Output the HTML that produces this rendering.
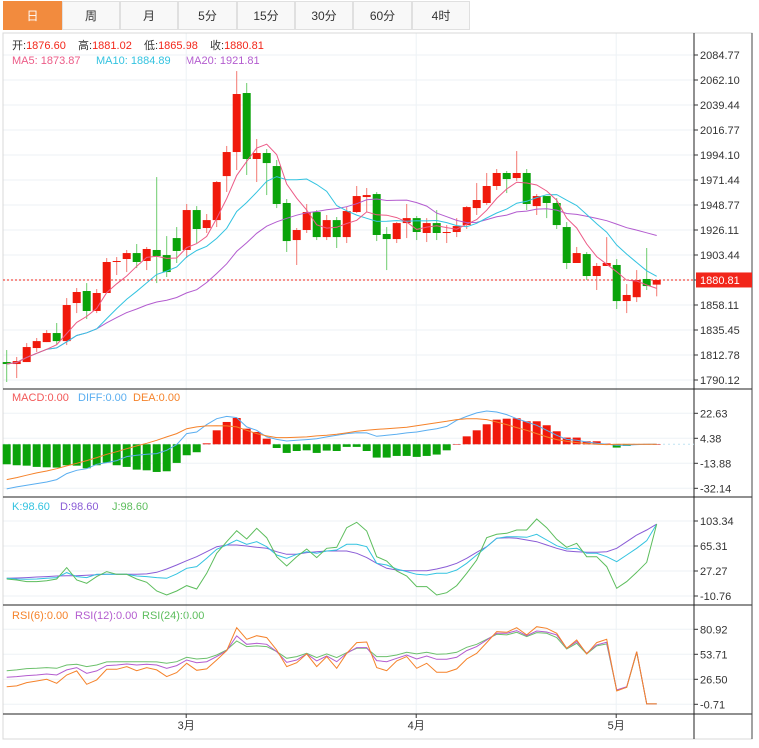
<!DOCTYPE html>
<html><head><meta charset="utf-8">
<style>
body{margin:0;background:#fff;width:759px;height:748px;overflow:hidden;font-family:"Liberation Sans","Noto Sans CJK SC",sans-serif;}
#tabs{position:absolute;left:0;top:0;height:31px;width:759px;}
.tab{position:absolute;top:1px;height:29px;line-height:29px;text-align:center;font-size:12px;color:#333;background:#f8f8f8;border:1px solid #e0e0e0;box-sizing:border-box;cursor:pointer;}
.tab.active{background:#f28b3e;color:#fff;border-color:#f28b3e;}
svg{position:absolute;left:0;top:0;}
</style></head>
<body>
<div id="tabs">
<div class="tab active" style="left:3px;width:59px">日</div>
<div class="tab" style="left:62px;width:58px">周</div>
<div class="tab" style="left:120px;width:58px">月</div>
<div class="tab" style="left:178px;width:59px">5分</div>
<div class="tab" style="left:237px;width:58px">15分</div>
<div class="tab" style="left:295px;width:58px">30分</div>
<div class="tab" style="left:353px;width:59px">60分</div>
<div class="tab" style="left:412px;width:58px">4时</div>
</div>
<svg id="chart" width="759" height="748" xmlns="http://www.w3.org/2000/svg" style="top:0">
<g font-family="Liberation Sans, Noto Sans CJK SC, sans-serif" font-size="11">
<g>
<text x="12" y="49" fill="#333">开:<tspan fill="#f2261a">1876.60</tspan></text>
<text x="78" y="49" fill="#333">高:<tspan fill="#f2261a">1881.02</tspan></text>
<text x="144" y="49" fill="#333">低:<tspan fill="#f2261a">1865.98</tspan></text>
<text x="210" y="49" fill="#333">收:<tspan fill="#f2261a">1880.81</tspan></text>
</g>
<g>
<text x="12" y="64" fill="#ec5b87">MA5: 1873.87</text>
<text x="96" y="64" fill="#33c3e0">MA10: 1884.89</text>
<text x="185" y="64" fill="#b35ccf">MA20: 1921.81</text>
</g>
<g>
<text x="12" y="401" fill="#f25858">MACD:0.00</text>
<text x="78" y="401" fill="#5aaef0">DIFF:0.00</text>
<text x="133" y="401" fill="#f5822a">DEA:0.00</text>
</g>
<g>
<text x="12" y="510" fill="#33c3e0">K:98.60</text>
<text x="60" y="510" fill="#8a5cd6">D:98.60</text>
<text x="112" y="510" fill="#5cbd5c">J:98.60</text>
</g>
<g>
<text x="12" y="619" fill="#f5822a">RSI(6):0.00</text>
<text x="75" y="619" fill="#b35ccf">RSI(12):0.00</text>
<text x="142" y="619" fill="#5cbd5c">RSI(24):0.00</text>
</g>
</g>
</svg>
<script>
const opens=[1806.4,1804.6,1806.4,1819.1,1824.5,1832.7,1825.4,1859.9,1870.8,1852.7,1869.0,1897.1,1899.8,1905.2,1898.0,1908.0,1903.4,1918.8,1908.0,1944.2,1927.9,1935.1,1975.0,1996.8,2050.3,1990.5,1995.9,1984.1,1950.6,1917.0,1926.1,1942.4,1919.7,1935.1,1919.7,1942.4,1956.0,1958.7,1922.5,1917.9,1932.4,1936.9,1923.4,1932.4,1923.4,1924.3,1930.6,1946.0,1950.6,1966.0,1977.8,1973.2,1977.8,1947.8,1956.9,1950.6,1928.8,1896.2,1904.3,1884.4,1893.5,1894.4,1861.7,1865.2,1881.7,1876.6];
const highs=[1817.3,1811.0,1823.6,1828.2,1835.4,1841.8,1864.4,1873.5,1878.0,1872.6,1900.7,1901.6,1908.0,1913.4,1910.7,1974.1,1920.6,1928.8,1949.7,1947.8,1940.6,1970.5,2002.3,2070.2,2059.4,2008.6,1999.5,1989.6,1954.2,1927.9,1949.7,1944.2,1939.7,1937.9,1946.9,1966.0,1964.2,1960.5,1928.8,1933.3,1949.7,1938.8,1936.9,1944.2,1930.6,1936.9,1947.8,1968.7,1977.8,1981.4,1979.6,1997.7,1981.4,1958.7,1956.9,1955.1,1933.3,1910.7,1906.1,1896.2,1919.7,1899.8,1877.1,1889.8,1909.8,1881.02];
const lows=[1788.3,1791.9,1806.4,1815.5,1824.5,1821.8,1821.8,1850.8,1845.4,1850.8,1869.0,1885.3,1888.0,1891.6,1889.8,1878.0,1883.5,1896.2,1900.7,1914.3,1923.4,1928.8,1960.6,1980.5,1976.0,1969.6,1957.8,1946.0,1906.2,1894.4,1923.4,1917.0,1917.0,1909.8,1914.3,1941.5,1942.4,1916.1,1889.8,1914.3,1918.8,1917.0,1915.2,1917.0,1914.3,1919.7,1927.0,1939.7,1948.8,1962.4,1959.6,1970.5,1944.2,1939.7,1936.9,1927.0,1890.7,1896.2,1880.8,1871.7,1893.5,1854.5,1850.8,1860.8,1871.7,1865.98];
const closes=[1804.6,1807.3,1820.0,1825.4,1832.7,1825.4,1858.1,1869.9,1852.7,1869.0,1897.1,1898.0,1905.2,1897.1,1908.9,1902.5,1888.0,1907.1,1944.2,1927.0,1935.1,1969.6,1996.8,2049.4,1990.5,1995.9,1986.8,1949.7,1916.1,1926.1,1942.4,1919.7,1935.1,1919.7,1943.3,1956.9,1957.8,1921.6,1917.9,1932.4,1936.9,1924.3,1932.4,1923.4,1924.3,1929.7,1946.9,1953.3,1966.0,1977.8,1972.3,1977.8,1949.7,1956.9,1950.6,1930.6,1896.2,1905.2,1884.4,1893.5,1896.2,1861.7,1867.2,1880.8,1875.3,1880.81];
const macdHist=[-14.6,-15.3,-15.6,-16.5,-16.8,-17.0,-15.3,-15.6,-17.5,-15.3,-13.4,-15.3,-16.5,-18.5,-19.0,-20.2,-19.7,-13.6,-8.0,-5.8,0.7,10.2,16.3,19.2,11.4,9.0,4.1,-2.7,-6.3,-4.9,-4.4,-6.3,-4.6,-4.9,-1.9,-1.9,-4.9,-9.7,-9.7,-8.5,-8.5,-9.2,-8.5,-7.5,-4.4,0,5.8,10.2,14.6,18.0,18.7,19.0,16.8,16.8,13.9,9.5,4.9,4.9,2.2,2.2,0.5,-2.4,-1.2,0.2,0.1,0];
const diffVals=[-32.6,-31.1,-29.9,-28.7,-27.5,-25.8,-21.4,-19.0,-17.8,-14.6,-13.4,-11.9,-9.0,-8.0,-7.3,-6.8,-4.4,-0.2,7.8,9.0,14.4,18.7,20.4,19.5,12.7,10.2,5.4,3.6,2.4,2.9,3.4,4.1,5.4,6.6,7.8,8.5,8.3,5.8,6.6,7.3,8.3,9.0,10.2,11.4,13.1,17.5,20.4,22.9,24.3,23.6,21.7,18.7,16.3,13.9,10.2,6.6,3.6,2.9,1.7,0.7,0,-0.7,-0.7,-0.2,0,0];
const deaVals=[-25.8,-24.3,-22.6,-20.9,-19.5,-17.8,-15.8,-13.9,-11.9,-9.7,-7.3,-5.4,-3.2,-1.2,0.7,2.9,5.4,7.8,11.4,12.7,13.4,13.6,13.4,12.7,10.2,7.8,6.1,4.9,4.9,5.1,5.4,6.1,6.6,7.3,8.3,9.5,10.2,10.9,11.4,11.9,12.4,13.6,14.6,15.8,16.8,18.0,18.7,18.7,18.0,16.3,14.4,12.2,10.2,7.8,5.4,3.4,2.2,1.2,0.5,0,-0.2,0,0,0,0,0];
const kVals=[16.1,15.1,14.6,15.1,16.1,17.2,24.8,18.7,17.2,22.2,22.2,22.2,22.2,19.7,18.7,17.2,16.1,22.8,31.4,33.9,46.6,60.3,66.9,74.5,67.9,71.9,64.3,51.6,46.6,52.7,56.7,54.2,57.7,59.2,67.9,67.9,64.3,39.0,36.4,30.3,26.3,22.2,21.2,23.8,23.8,28.8,39.0,51.6,64.3,77.0,79.5,79.5,78.5,83.1,74.5,65.8,60.8,61.8,54.2,54.2,49.1,41.5,51.6,61.8,73.4,98.6];
const dVals=[16.1,16.7,17.2,18.2,18.7,19.7,20.2,20.2,20.7,21.7,22.2,22.2,22.2,22.2,22.8,25.3,30.3,36.4,43.0,49.1,56.7,64.3,66.9,66.9,65.3,63.3,61.8,56.7,52.7,52.7,55.2,56.7,57.7,57.7,57.7,54.2,47.6,39.0,31.4,28.8,27.8,27.8,27.8,30.3,33.9,39.0,46.6,55.7,64.3,77.0,78.0,77.0,74.5,71.9,66.9,61.8,57.7,56.7,55.7,55.7,56.7,61.8,71.9,82.1,89.7,98.6];
const jVals=[15.1,13.6,11.1,11.1,12.6,15.1,32.4,13.6,8.5,18.7,26.3,22.2,22.2,15.1,10.1,-3.1,-9.2,-3.1,5.0,-0.1,23.8,54.2,71.9,88.6,76.0,92.2,78.0,49.1,34.9,49.1,60.8,47.6,61.8,63.3,93.2,101.3,88.1,49.1,42.5,27.3,19.7,3.5,3.5,-9.2,-5.7,5.0,23.8,44.0,78.0,83.1,84.6,89.7,89.7,106.4,93.2,75.5,63.3,69.4,49.1,49.1,33.9,0.9,11.1,25.3,40.5,98.6];
const rsi6=[18.5,19.3,22.9,24.7,26.5,22.1,31.2,35.6,21.1,25.8,37.4,37.4,40.3,35.9,39.2,36.7,29.4,33.8,43.9,36.3,37.8,47.5,57.7,82.7,70.0,74.0,71.9,58.4,40.3,44.6,54.1,40.3,51.2,38.5,54.8,66.4,67.1,39.2,35.9,46.5,51.2,38.5,43.9,34.2,34.2,37.8,48.6,54.8,66.4,78.4,77.7,82.7,74.8,83.8,82.0,76.6,60.2,69.3,54.1,66.4,70.0,13.8,17.8,56.6,-0.3,-0.3];
const rsi12=[28.7,29.4,30.5,31.2,32.3,31.2,36.7,39.2,33.0,35.6,41.4,42.1,43.2,42.1,42.8,42.1,38.5,41.4,47.5,44.6,45.7,51.2,57.7,73.7,64.6,65.7,64.6,56.6,45.0,47.5,54.1,46.5,51.9,45.7,54.8,61.0,61.0,46.8,45.7,49.4,53.0,48.6,51.9,48.3,48.3,50.4,57.7,62.1,69.3,76.6,76.6,79.5,74.0,79.1,78.0,74.8,60.2,67.5,54.8,63.9,66.8,14.9,18.5,56.6,-0.3,-0.3];
const rsi24=[35.9,36.7,38.1,38.5,39.2,38.5,42.1,42.8,40.3,42.1,45.4,45.7,45.7,45.7,45.7,45.4,43.9,45.7,50.4,48.6,49.4,53.0,58.4,68.2,62.1,62.8,62.1,56.6,49.4,51.2,54.8,50.1,54.1,50.1,55.5,60.2,60.2,51.2,51.2,53.0,55.9,54.1,55.9,53.7,54.1,55.9,61.3,64.6,70.0,75.5,74.8,77.7,73.0,77.3,76.6,71.9,59.5,65.7,54.1,62.8,65.0,14.9,17.8,55.9,-0.3,-0.3];
const priceTicks=[2084.77,2062.10,2039.44,2016.77,1994.10,1971.44,1948.77,1926.11,1903.44,1880.78,1858.11,1835.45,1812.78,1790.12];
const priceTickLabels=["2084.77","2062.10","2039.44","2016.77","1994.10","1971.44","1948.77","1926.11","1903.44","","1858.11","1835.45","1812.78","1790.12"];
const macdTicks=[22.63,4.38,-13.88,-32.14];
const kdjTicks=[103.34,65.31,27.27,-10.76];
const rsiTicks=[80.92,53.71,26.50,-0.71];
const monthLabels=["3月","4月","5月"];
const monthIndex=[18,41,61];
const lastPrice=1880.81;

const NS="http://www.w3.org/2000/svg";
const svg=document.getElementById('chart');
function el(tag,attrs,parent){const e=document.createElementNS(NS,tag);for(const k in attrs)e.setAttribute(k,attrs[k]);(parent||svg).appendChild(e);return e;}
const xOf=i=>6.7+10*i;
const yP=p=>55+(2084.77-p)*25/22.665;
const yM=v=>413.3+(22.63-v)*25/18.255;
const yK=v=>521+(103.34-v)*25/38.03;
const yR=v=>629.3+(80.92-v)*25/27.21;
const L=3,R=694,OUT=752;

const grid=el('g',{});


priceTicks.forEach(t=>el('line',{x1:L,x2:R,y1:yP(t),y2:yP(t),stroke:'#edf2f6'},grid));
macdTicks.forEach(t=>el('line',{x1:L,x2:R,y1:yM(t),y2:yM(t),stroke:'#edf2f6'},grid));
kdjTicks.forEach(t=>el('line',{x1:L,x2:R,y1:yK(t),y2:yK(t),stroke:'#edf2f6'},grid));
rsiTicks.forEach(t=>el('line',{x1:L,x2:R,y1:yR(t),y2:yR(t),stroke:'#edf2f6'},grid));
monthIndex.forEach(i=>el('line',{x1:xOf(i)-0.5,x2:xOf(i)-0.5,y1:33,y2:714,stroke:'#edf2f6'},grid));

el('rect',{x:L,y:33,width:OUT-L,height:706,fill:'none',stroke:'#d8d8d8'});
[389,497,605,714].forEach(y=>el('line',{x1:L,x2:OUT,y1:y,y2:y,stroke:'#222'}));
el('line',{x1:R,x2:R,y1:33,y2:739,stroke:'#222'});
el('line',{x1:OUT,x2:OUT,y1:33,y2:739,stroke:'#444'});

const ax=el('g',{'font-family':'Liberation Sans, sans-serif','font-size':'11',fill:'#333'});


function tick(y,label){el('line',{x1:R,x2:R+4,y1:y,y2:y,stroke:'#333'},ax);if(label){const t=el('text',{x:R+6,y:y+4},ax);t.textContent=label;}}
priceTicks.forEach((t,i)=>tick(yP(t),priceTickLabels[i]));
macdTicks.forEach(t=>tick(yM(t),t.toFixed(2)));
kdjTicks.forEach(t=>tick(yK(t),t.toFixed(2)));
rsiTicks.forEach(t=>tick(yR(t),t.toFixed(2)));
monthIndex.forEach((idx,k)=>{const x=xOf(idx)-0.5;el('line',{x1:x,x2:x,y1:714,y2:718,stroke:'#333'},ax);const t=el('text',{x:x,y:729,'text-anchor':'middle','font-family':'Liberation Sans, Noto Sans CJK SC, sans-serif'},ax);t.textContent=monthLabels[k];});

const lp=el('line',{x1:L,x2:R,y1:yP(lastPrice),y2:yP(lastPrice),stroke:'#f2261a','stroke-dasharray':'2,2'});


const lpb=el('rect',{x:R+2,y:yP(lastPrice)-7.5,width:56,height:15,fill:'#f2261a'});


const lpt=el('text',{x:R+6,y:yP(lastPrice)+4,fill:'#fff','font-size':'11','font-family':'Liberation Sans, sans-serif'});
lpt.textContent=lastPrice.toFixed(2);

const cg=el('g',{});


for(let i=0;i<opens.length;i++){
  const up=closes[i]>=opens[i];
  const body=up?'#f0190b':'#0aa30a', wick=up?'#f37a72':'#6dcc6d';
  const x=xOf(i);
  const w=el('line',{x1:x,x2:x,y1:yP(highs[i]),y2:yP(lows[i]),stroke:wick},cg);
  
  
  const top=yP(Math.max(opens[i],closes[i])),bot=yP(Math.min(opens[i],closes[i]));
  const b=el('rect',{x:x-4,y:top,width:8,height:Math.max(1,bot-top),fill:body},cg);
  
  
}
function ma(n){return closes.map((c,i)=>{const s=closes.slice(Math.max(0,i-n+1),i+1);return s.reduce((a,b)=>a+b,0)/s.length;});}
function line(vals,yf,color,name,w){const p=vals.map((v,i)=>xOf(i)+','+yf(v).toFixed(1)).join(' ');const e=el('polyline',{points:p,fill:'none',stroke:color,'stroke-width':w||1});

}
line(ma(20),yP,'#b35ccf','ma20-line');
line(ma(10),yP,'#33c3e0','ma10-line');
line(ma(5),yP,'#ec5b87','ma5-line');

const zl=el('line',{x1:L,x2:R,y1:yM(0),y2:yM(0),stroke:'#bfe3f2','stroke-dasharray':'2,3'});


macdHist.forEach((v,i)=>{const y0=yM(0),y1=yM(v);const r=el('rect',{x:xOf(i)-4,y:Math.min(y0,y1),width:8,height:Math.max(0.5,Math.abs(y1-y0)),fill:v>=0?'#f0190b':'#0aa30a'});

});
line(diffVals,yM,'#5aaef0','diff-line');
line(deaVals,yM,'#f5822a','dea-line');
line(dVals,yK,'#8a5cd6','kdj-d-line');
line(kVals,yK,'#33c3e0','kdj-k-line');
line(jVals,yK,'#5cbd5c','kdj-j-line');
line(rsi24,yR,'#6cc06c','rsi24-line');
line(rsi12,yR,'#b35ccf','rsi12-line');
line(rsi6,yR,'#f5822a','rsi6-line');
</script>
</body></html>
